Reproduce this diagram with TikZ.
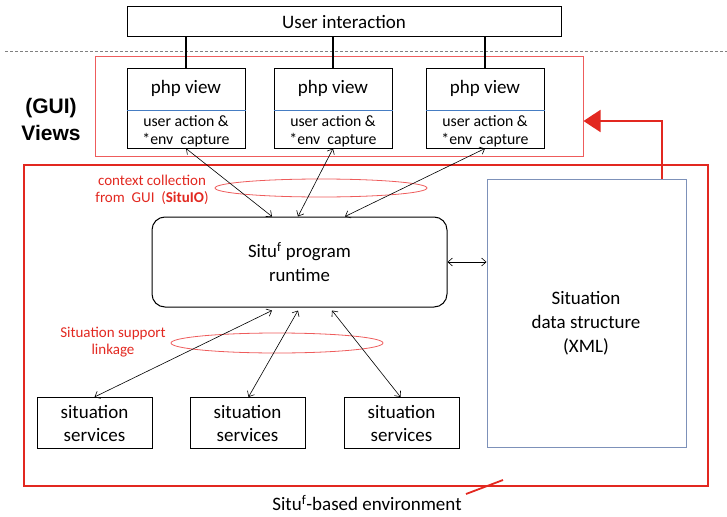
\documentclass[tikz,border=0pt]{standalone}
\usepackage{fontspec}
\setmainfont{Carlito}
\newfontfamily\headfont{Liberation Sans}
\usetikzlibrary{calc,positioning,arrows,arrows.meta,shapes.geometric}

\definecolor{envred}{RGB}{226,40,32}
\definecolor{guired}{RGB}{238,92,92}
\definecolor{divblue}{RGB}{70,125,195}
\definecolor{datablue}{RGB}{125,145,185}

\tikzset{
	plainbox/.style={draw,line width=1pt,inner sep=0pt},
	viewbox/.style={plainbox,minimum width=118,minimum height=79},
	servbox/.style={plainbox,minimum width=115,minimum height=51,align=center,
		font=\fontsize{19}{23}\selectfont},
	txt/.style={inner sep=0pt,align=center},
	link/.style={<->,>={Straight Barb[length=4.5pt,width=8pt]},line width=0.6pt},
	redring/.style={draw=guired,ellipse,line width=0.8pt,inner sep=0pt},
	redtext/.style={txt,text=envred,font=\fontsize{15}{17}\selectfont}
}

\begin{document}
\begin{tikzpicture}[x=1pt,y=-1pt]
			\useasboundingbox (0,0) rectangle (727,516);
			\draw[gray,densely dashed,line width=0.8pt] (5,51) -- (727,51);
			\node[plainbox,minimum width=434,minimum height=30,font=\fontsize{19}{20}\selectfont] (user) at (344,22) {User interaction};
			\node[draw=guired,line width=1pt,minimum width=488,minimum height=99,inner sep=0pt] (gui) at (339,106.5) {};
			\node[txt,font=\headfont\bfseries\fontsize{21}{27}\selectfont] (guilabel) at (51,119.5) {(GUI)\\Views};
			\foreach \i/\x in {1/186,2/333,3/485} {
				\node[viewbox] (php\i) at (\x,108.5) {};
				\draw[divblue,line width=0.8pt] ([yshift=-1.5pt]php\i.west) -- ([yshift=-1.5pt]php\i.east);
				\node[txt,font=\fontsize{19}{20}\selectfont] (title\i) at (\x,88) {php view};
				\node[txt,font=\fontsize{15.8}{18}\selectfont] (cap\i) at (\x,131) {user action \&\\*env\ \ capture};
				\draw[line width=1.6pt] (user.south -| php\i.north) -- (php\i.north);
			}
			\node[draw=envred,line width=1.8pt,minimum width=684,minimum height=321,inner sep=0pt] (env) at (366,325.5) {};
			\node[draw=datablue,line width=1pt,minimum width=199,minimum height=268,inner sep=0pt] (data) at (586.5,313) {};
			\node[txt,font=\fontsize{19}{24}\selectfont] (datatxt) at (586,323) {Situation\\data structure\\(XML)};
			\node[plainbox,rounded corners=13,minimum width=295,minimum height=90,align=center,font=\fontsize{18.8}{24}\selectfont] (run) at (299.5,262) {Situ\textsuperscript{f} program\\runtime};
			\foreach \i/\x in {1/94.5,2/247.5,3/401.5}
				\node[servbox] (serv\i) at (\x,423) {situation\\services};
			% context collection
			\node[redring,minimum width=212,minimum height=18] (ctxring) at (321,188) {};
			\node[redtext] (ctxtxt) at (152,189.5) {context collection\\from\ \ GUI\ \ (\textbf{SituIO})};
			\draw[link] (php1.south) -- ([xshift=-27.5pt]run.north);
			\draw[link] (php2.south) -- ([xshift=-1.5pt]run.north);
			\draw[link] (php3.south) -- ([xshift=45.5pt]run.north);
			% support linkage
			\node[redring,minimum width=212,minimum height=20] (linkring) at (277,343) {};
			\node[redtext] (linktxt) at (113,342) {Situation support\\linkage};
			\draw[link] ([xshift=-27.5pt,yshift=-3pt]run.south) -- (serv1.north);
			\draw[link] ([xshift=-1.5pt,yshift=-3pt]run.south) -- ([xshift=1pt]serv2.north);
			\draw[link] ([xshift=32.5pt,yshift=-3pt]run.south) -- ([xshift=-1pt]serv3.north);
			\draw[link] (run.east) -- (data.west |- run.east);
			\draw[envred,line width=1.8pt,-{Triangle[length=17pt,width=22pt]}] ([xshift=75.5pt]data.north) |- ([yshift=-14.5pt]gui.east);
			\node[txt,font=\fontsize{19}{20}\selectfont] (envtxt) at (367,503) {Situ\textsuperscript{f}-based environment};
			\draw[envred,line width=1.8pt] (466,494) -- (503,480);
		\end{tikzpicture}
\end{document}
